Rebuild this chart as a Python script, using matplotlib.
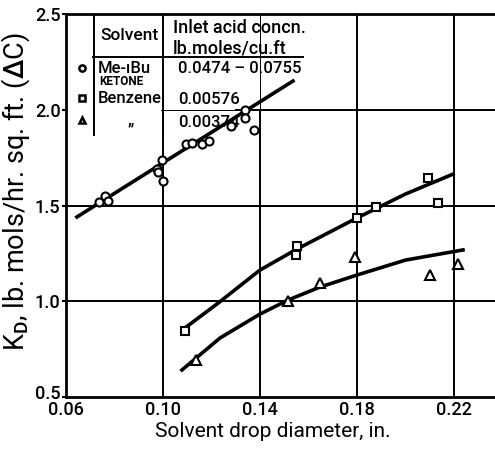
import matplotlib.pyplot as plt
from matplotlib.patches import Rectangle
import matplotlib.transforms as mtransforms

plt.rcParams['font.family'] = ['Roboto', 'DejaVu Sans']
plt.rcParams['font.weight'] = 'medium'
plt.rcParams['mathtext.fontset'] = 'custom'
plt.rcParams['mathtext.rm'] = 'Roboto:medium'

# Me-iBu ketone (circles)
circ_x = [0.0736, 0.0761, 0.0773, 0.0975, 0.0979, 0.0995, 0.1000, 0.1094,
          0.1119, 0.1160, 0.1189, 0.1280, 0.1338, 0.1340, 0.1375]
circ_y = [1.518, 1.550, 1.524, 1.690, 1.675, 1.738, 1.628, 1.821,
          1.826, 1.821, 1.837, 1.915, 2.000, 1.958, 1.894]
# benzene 0.00576 (squares)
sq_x = [0.109, 0.1553, 0.1549, 0.180, 0.1878, 0.2093, 0.2134]
sq_y = [0.845, 1.288, 1.241, 1.435, 1.492, 1.644, 1.513]
# benzene 0.00374 (triangles)
tri_x = [0.1136, 0.1515, 0.1647, 0.179, 0.210, 0.2216]
tri_y = [0.693, 1.000, 1.095, 1.231, 1.137, 1.195]

# drawn trend lines
line_c_x = [0.0645, 0.1536]
line_c_y = [1.44, 2.15]
line_s_x = [0.109, 0.1227, 0.140, 0.1553, 0.180, 0.200, 0.2196]
line_s_y = [0.86, 0.99, 1.163, 1.273, 1.435, 1.56, 1.664]
line_t_x = [0.1078, 0.1235, 0.140, 0.1515, 0.1647, 0.180, 0.200, 0.2237]
line_t_y = [0.641, 0.808, 0.933, 1.006, 1.074, 1.137, 1.215, 1.268]

xticks = [0.06, 0.10, 0.14, 0.18, 0.22]
xtick_labels = ['0.06', '0.10', '0.14', '0.18', '0.22']
yticks = [0.5, 1.0, 1.5, 2.0, 2.5]
ytick_labels = ['0.5', '1.0', '1.5', '2.0', '2.5']

fig = plt.figure(figsize=(4.95, 4.49), dpi=100)
ax = fig.add_axes([0.1333, 0.1158, 0.8667, 0.853])
ax.set_xlim(0.06, 0.2369)
ax.set_ylim(0.5, 2.5)

# grid
for x in xticks[1:]:
    ax.axvline(x, color='black', lw=1.4, zorder=1)
for y in yticks[1:4]:
    ax.axhline(y, color='black', lw=1.4, zorder=1)

# white area for the key table
ax.add_patch(Rectangle((0.06, 2.0), 0.0695, 0.5, facecolor='white', edgecolor='none', zorder=2))
ax.add_patch(Rectangle((0.1295, 2.005), 0.0105, 0.495, facecolor='white', edgecolor='none', zorder=2))
ax.add_patch(Rectangle((0.06, 1.87), 0.039, 0.13, facecolor='white', edgecolor='none', zorder=2))
ax.plot([0.1, 0.1], [1.87, 2.5], color='black', lw=1.4, zorder=3)

# table lines
ax.plot([0.0716, 0.0716], [1.868, 2.5], color='black', lw=1.4, zorder=3)
ax.plot([0.0711, 0.1577], [2.275, 2.275], color='black', lw=1.4, zorder=3)

tk = dict(zorder=4, color='black')
ax.text(0.0862, 2.39, 'Solvent', ha='center', va='center', fontsize=12.5, **tk)
ax.text(0.1041, 2.427, 'Inlet acid concn.', ha='left', va='center', fontsize=13, **tk)
ax.text(0.1041, 2.322, 'lb.moles/cu.ft', ha='left', va='center', fontsize=13, **tk)
ax.plot([0.0665], [2.218], 'o', ms=4.5, mfc='white', mec='black', mew=1.8, zorder=4)
ax.plot([0.0665], [2.061], 's', ms=4.5, mfc='white', mec='black', mew=1.8, zorder=4)
ax.plot([0.0665], [1.946], '^', ms=5, mfc='white', mec='black', mew=1.8, zorder=4)
ax.text(0.0729, 2.218, 'Me-ıBu', ha='left', va='center', fontsize=12, **tk)
ax.text(0.0738, 2.145, 'KETONE', ha='left', va='center', fontsize=8.5, fontweight='bold', **tk)
ax.text(0.0729, 2.061, 'Benzene', ha='left', va='center', fontsize=12, **tk)
ax.text(0.0865, 1.946, '„', ha='center', va='center', fontsize=12, **tk)
ax.text(0.1061, 2.218, '0.0474 – 0.0755', ha='left', va='center', fontsize=12, **tk)
ax.text(0.1061, 2.051, '0.00576', ha='left', va='center', fontsize=12, **tk)
ax.text(0.1061, 1.936, '0.00374', ha='left', va='center', fontsize=12, **tk)

# curves
ax.plot(line_c_x, line_c_y, color='black', lw=2.6, zorder=5)
ax.plot(line_s_x, line_s_y, color='black', lw=2.6, zorder=5)
ax.plot(line_t_x, line_t_y, color='black', lw=2.6, zorder=5)

mk = dict(ls='none', mfc='white', mec='black', mew=1.5, zorder=6)
ax.plot(circ_x, circ_y, 'o', ms=5.8, **mk)
ax.plot(sq_x, sq_y, 's', ms=6.2, **mk)
ax.plot(tri_x, tri_y, '^', ms=7, **mk)

ax.spines['right'].set_visible(False)
for s in ['left', 'bottom', 'top']:
    ax.spines[s].set_linewidth(2)
ax.set_xticks(xticks)
ax.set_xticklabels(xtick_labels, fontsize=13)
ax.set_yticks(yticks)
ax.set_yticklabels(ytick_labels, fontsize=13)
ax.tick_params(axis='x', length=0, pad=3)
ax.tick_params(axis='y', length=3, width=1.5, pad=1)
# nudge the bottom y label up a little, as in the original
lab = ax.get_yticklabels()[0]
lab.set_transform(lab.get_transform() + mtransforms.ScaledTranslation(0, 5 / 100, fig.dpi_scale_trans))

ax.set_xlabel('Solvent drop diameter, in.', fontsize=15)
ax.xaxis.set_label_coords(0.4825, -0.066)
ax.set_ylabel(r'K$_\mathrm{D}$, lb. mols/hr. sq. ft. ($\Delta$C)', fontsize=19.5)
ax.yaxis.set_label_coords(-0.08, 0.535)

fig.savefig('out.png', dpi=100)
